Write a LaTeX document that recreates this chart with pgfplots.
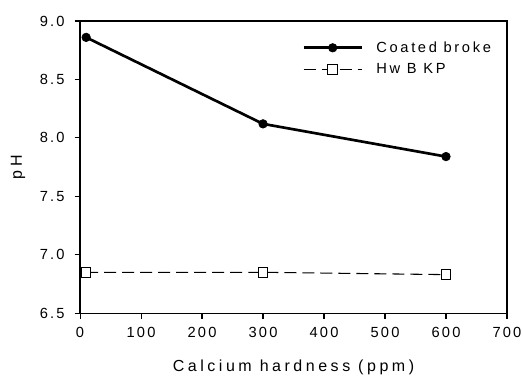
\documentclass[border=0pt]{standalone}
\usepackage{pgfplots}
\pgfplotsset{compat=1.18}
\usepackage{fontspec}
\setmainfont{Liberation Sans}
\newfontfamily\chartfont[LetterSpace=15]{Liberation Sans}
\newfontfamily\legfont[LetterSpace=18]{Liberation Sans}
\newfontfamily\labfont[LetterSpace=22]{Liberation Sans}
\newcommand\cf{\chartfont\fontsize{11}{13}\selectfont}
\newcommand\lf{\legfont\fontsize{11}{13}\selectfont}
\newcommand\labf{\labfont\fontsize{12}{14}\selectfont}
\begin{document}
\begin{tikzpicture}[x=1pt,y=1pt]
\useasboundingbox (-60pt,-49.5pt) rectangle (332pt,234.75pt);
\begin{axis}[
  at={(0pt,0pt)}, anchor=south west,
  scale only axis,
  width=320pt, height=219pt,
  xmin=0, xmax=700, ymin=6.5, ymax=9.0,
  xtick={0,100,...,700},
  ytick={6.5,7.0,...,9.0},
  yticklabel style={/pgf/number format/fixed, /pgf/number format/fixed zerofill, /pgf/number format/precision=1, xshift=-4pt},
  /pgf/number format/assume math mode=true,
  tick align=outside,
  major tick length=4pt,
  axis line style={line width=1pt},
  every tick/.style={black,line width=0.8pt},
  tick label style={font=\cf},
  xticklabel style={yshift=-3pt},
  label style={font=\labf},
  xlabel={Calcium hardness (ppm)},
  ylabel={pH},
  xlabel style={at={(axis description cs:0.5,-0.185)}, anchor=center},
  ylabel style={at={(axis description cs:-0.145,0.5)}, anchor=center},
  xtick pos=bottom, ytick pos=left,
  legend style={draw=none, fill=none, at={(0.52,0.94)}, anchor=north west,
    font=\lf, row sep=3pt, inner sep=0pt,
    /tikz/every odd column/.append style={column sep=8pt}},
  legend cell align=left,
  legend image code/.code={
    \draw[#1] (0cm,0cm) -- (1.53cm,0cm);
    \draw[#1,solid] plot coordinates {(0.765cm,0cm)};
  },
]
\addplot[black, line width=2pt, mark=*, mark size=3.2pt, mark options={solid,fill=black,line width=0.5pt}]
  coordinates {(10,8.86) (300,8.12) (600,7.84)};
\addlegendentry{Coated broke}
\addplot[black, line width=0.8pt, dash pattern=on 9pt off 4.5pt, mark=square*, mark size=3.6pt, mark options={solid,fill=white,line width=0.8pt}]
  coordinates {(10,6.85) (300,6.85) (600,6.83)};
\addlegendentry{Hw B KP}
\end{axis}
\end{tikzpicture}
\end{document}
